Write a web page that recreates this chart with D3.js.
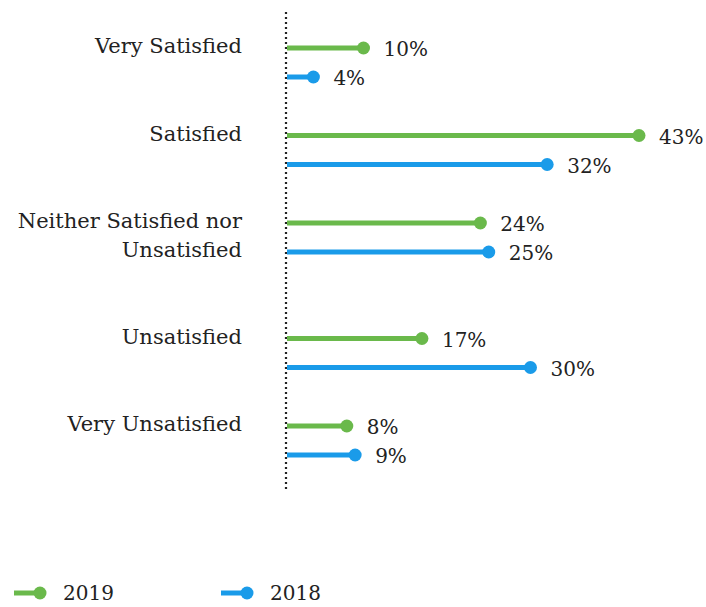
<!DOCTYPE html>
<html>
<head>
<meta charset="utf-8">
<script src="https://cdn.jsdelivr.net/npm/d3@7/dist/d3.min.js"></script>
<style>
  body { margin: 0; background: #fff; }
  text { font-family: "DejaVu Serif", "Liberation Serif", serif; fill: #222; }
</style>
</head>
<body>
<div id="vis"></div>
<script>
// data
const categories = ["Very Satisfied", "Satisfied", "Neither Satisfied nor\nUnsatisfied", "Unsatisfied", "Very Unsatisfied"];
const years = ["2019", "2018"];
const values2019 = [10, 43, 24, 17, 8];
const values2018 = [4, 32, 25, 30, 9];
const colors = ["#6ab94b", "#1a9be9"];

const width = 706, height = 607;
const axisX = 286;

const svg = d3.select("#vis").append("svg")
  .attr("width", width)
  .attr("height", height);

const x = d3.scaleLinear().domain([0, 43]).range([280, 639]);

// each category gets a slot, taller when its label wraps to two lines
const lines = categories.map(c => c.split("\n").length);
let acc = 0;
const slotTop = lines.map(n => { const t = acc; acc += 87.5 + (n - 1) * 28; return t; });
const y = d3.scaleLinear().domain([0, acc]).range([48, 48 + acc]);
const rowGap = 29;

const rows = categories.map((c, i) => ({
  label: c,
  y0: y(slotTop[i]),
  vals: [values2019[i], values2018[i]]
}));

// dotted axis
svg.append("line")
  .attr("x1", axisX).attr("x2", axisX)
  .attr("y1", 12).attr("y2", 490)
  .attr("stroke", "#222")
  .attr("stroke-width", 2.2)
  .attr("stroke-dasharray", "2,3");

const g = svg.selectAll(".row")
  .data(rows)
  .enter().append("g")
  .attr("class", "row")
  .attr("transform", d => `translate(0,${d.y0})`);

g.append("text")
  .attr("text-anchor", "end")
  .attr("x", 242)
  .style("font-size", "21px")
  .selectAll("tspan")
  .data(d => d.label.split("\n"))
  .enter().append("tspan")
  .attr("x", 242)
  .attr("y", (d, i) => i * rowGap + 5)
  .text(d => d);

const pins = g.selectAll(".pin")
  .data(d => d.vals.map((v, k) => ({ v, k })))
  .enter().append("g")
  .attr("class", "pin")
  .attr("transform", d => `translate(0,${d.k * rowGap})`);

pins.append("line")
  .attr("x1", axisX + 1)
  .attr("x2", d => x(d.v))
  .attr("stroke", d => colors[d.k])
  .attr("stroke-width", 5);

pins.append("circle")
  .attr("cx", d => x(d.v))
  .attr("r", 6.5)
  .attr("fill", d => colors[d.k]);

pins.append("text")
  .attr("x", d => x(d.v) + 20)
  .attr("y", 8)
  .style("font-size", "20px")
  .text(d => d.v + "%");

// legend
const legend = svg.selectAll(".legend")
  .data(years)
  .enter().append("g")
  .attr("class", "legend")
  .attr("transform", (d, i) => `translate(${14 + i * 207},593)`);

legend.append("line")
  .attr("x1", 0).attr("x2", 26)
  .attr("stroke", (d, i) => colors[i])
  .attr("stroke-width", 5);

legend.append("circle")
  .attr("cx", 26)
  .attr("r", 6.5)
  .attr("fill", (d, i) => colors[i]);

legend.append("text")
  .attr("x", 49)
  .attr("y", 7)
  .style("font-size", "20px")
  .text(d => d);
</script>
</body>
</html>
